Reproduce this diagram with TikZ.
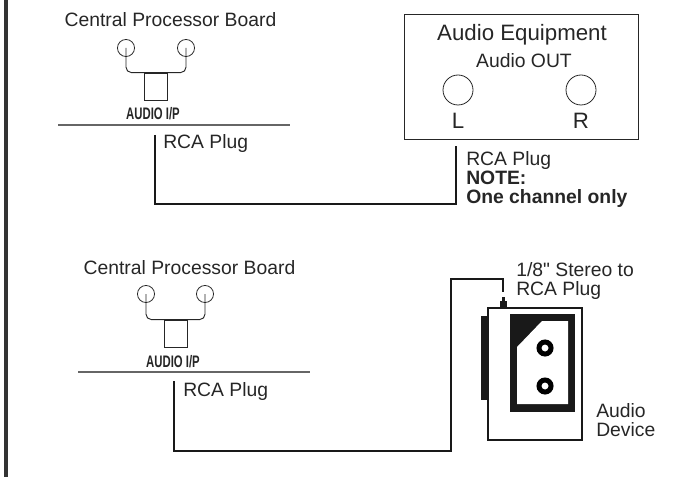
\documentclass[tikz,border=0pt]{standalone}
\usepackage{graphicx}
\usepackage{fontspec}
\setmainfont{Liberation Sans}
\newfontfamily\straightfont{Liberation Sans}
\usetikzlibrary{arrows.meta, positioning}

\begin{document}
\begin{tikzpicture}[
  x=0.75pt, y=-0.75pt,
  every node/.style={font=\fontsize{14.5}{17}\selectfont, text=black!85, inner sep=0pt},
  txt/.style={anchor=base},
  txtl/.style={anchor=base west},
  jack/.style={draw=black!85, circle, line width=0.6pt, minimum size=12.8pt},
  bigjack/.style={draw=black!85, circle, line width=0.6pt, minimum size=22.5pt},
  port/.style={draw=black!85, line width=0.6pt, minimum width=16.9pt, minimum height=20.3pt},
  prong/.style={draw=black!85, line width=0.7pt, rounded corners=4pt},
  rule/.style={draw=black!60, line width=1.1pt},
  wire/.style={draw=black!90, line width=1.7pt},
  hole/.style={draw=black, circle, line width=3.75pt, fill=white, minimum size=9pt}
]
  \useasboundingbox (0,0) rectangle (681,477);
  \fill[black!80] (4,0) rectangle (8,477);

  % upper board
  \node[txt] (boardA) at (170.5,27) {Central Processor Board};
  \node[jack] (jackAl) at (126,48) {};
  \node[jack] (jackAr) at (186,48) {};
  \node[port] (portA) at (156,86.5) {};
  \draw[prong] (jackAl.center) |- (portA.north) -| (jackAr.center);
  \node[txt] (inA) at (153,120) {\fontsize{12.5}{14}\selectfont\bfseries\scalebox{0.68}[1]{AUDIO I/P}};
  \draw[rule] (58,125) -- (290,125);
  \node[txtl] (rcaA) at (163,149) {RCA Plug};

  % audio equipment
  \node[draw=black!85, line width=0.6pt, minimum width=175.5pt, minimum height=93.8pt] (equip) at (521,76.5) {};
  \node[txt, font=\fontsize{16.7}{20}\selectfont] (equipT) at (522,41) {Audio Equipment};
  \node[txt] (outT) at (524,68) {Audio OUT};
  \node[bigjack] (jackL) at (458,90) {};
  \node[bigjack] (jackR) at (581,90) {};
  \node[txt, font=\fontsize{16.7}{20}\selectfont] (labL) at (458,129) {L};
  \node[txt, font=\fontsize{16.7}{20}\selectfont] (labR) at (581,129) {R};
  \node[txtl] (rcaB) at (466,166) {RCA Plug};
  \node[txtl, font=\fontsize{14.5}{17}\bfseries] (noteT) at (466,185) {NOTE:};
  \node[txtl, font=\fontsize{14.5}{17}\bfseries] (noteC) at (466,204) {One channel only};

  \coordinate (wireAs) at (155,135);
  \coordinate (wireAe) at (456,146);
  \draw[wire] (wireAs) |- (wireAe |- 0,204) -- (wireAe);

  % lower board
  \node[txt] (boardB) at (189.5,274) {Central Processor Board};
  \node[jack] (jackBl) at (146,294) {};
  \node[jack] (jackBr) at (205,294) {};
  \node[port] (portB) at (176,333.5) {};
  \draw[prong] (jackBl.center) |- (portB.north) -| (jackBr.center);
  \node[txt] (inB) at (173,367) {\fontsize{12.5}{14}\selectfont\bfseries\scalebox{0.68}[1]{AUDIO I/P}};
  \draw[rule] (78,372) -- (310,372);
  \node[txtl] (rcaC) at (183,396) {RCA Plug};

  % audio device
  \node[draw=black!90, line width=1.5pt, minimum width=70.5pt, minimum height=99pt] (device) at (535,374) {};
  \fill[black!90] (481,316) rectangle (488,400);
  \fill[black!90] (510,314) rectangle (575,412);
  \fill[white] (517,347) -- (542,321) -- (568,321) -- (568,404) -- (517,404) -- cycle;
  \node[hole] (holeA) at (545,348) {};
  \node[hole] (holeB) at (545,386) {};
  \node[fill=black!90, minimum width=5.2pt, minimum height=5.5pt] (plug) at (503.5,304.5) {};
  \node[fill=black!90, minimum width=2.6pt, minimum height=3pt] (plugTip) at (503.5,299) {};
  \node[txtl] (stereoA) at (516,276) {\straightfont 1/8" Stereo to};
  \node[txtl] (stereoB) at (516,295) {RCA Plug};
  \node[txtl] (devA) at (596,417) {Audio};
  \node[txtl] (devB) at (596,436) {Device};

  \coordinate (wireBs) at (174,381);
  \coordinate (wireBk) at (451,451);
  \coordinate (wireBe) at (503,292);
  \draw[wire] (wireBs) |- (wireBk) -- (wireBk |- 0,279) -| (wireBe);
\end{tikzpicture}
\end{document}
